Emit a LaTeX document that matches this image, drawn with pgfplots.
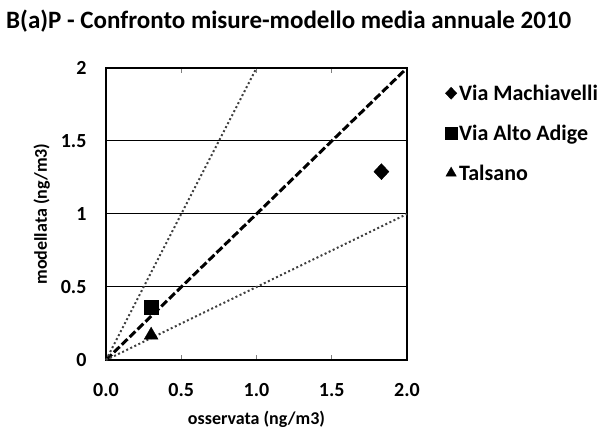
\documentclass[border=0pt]{standalone}
\usepackage{pgfplots}
\pgfplotsset{compat=1.18}
\usepackage{fontspec}
\setmainfont{Carlito}
\begin{document}
\begin{tikzpicture}[x=1pt,y=1pt]
\path[use as bounding box] (0,0) rectangle (600,431);
\node[anchor=base west,inner sep=0pt,font=\bfseries\fontsize{25}{27}\selectfont] at (6,402) {B(a)P - Confronto misure-modello media annuale 2010};
\begin{axis}[
  at={(106pt,71pt)}, anchor=south west,
  scale only axis, width=301pt, height=292pt,
  xmin=0, xmax=2, ymin=0, ymax=2,
  xtick={0,0.5,1,1.5,2}, ytick={0,0.5,1,1.5,2},
  xticklabels={0.0,0.5,1.0,1.5,2.0},
  yticklabels={0,0.5,1,1.5,2},
  /pgf/number format/assume math mode=true,
  ticklabel style={font=\bfseries\fontsize{20}{22}\selectfont},
  xticklabel style={yshift=-20pt},
  yticklabel style={xshift=-16pt},
  tick align=inside, major tick length=5pt,
  ytick style={draw=none},
  xtick style={line width=1pt},
  axis line style={line width=1.6pt},
  ymajorgrids, grid style={black, line width=1pt},
  xlabel={osservata (ng/m3)}, ylabel={modellata (ng/m3)},
  label style={font=\bfseries\fontsize{18}{20}\selectfont},
  xlabel style={yshift=-7pt},
  ylabel style={yshift=4pt},
  legend style={at={(1.126,0.95)}, anchor=north west, draw=none, fill=none,
    font=\bfseries\fontsize{22}{24}\selectfont, row sep=19pt, inner sep=0pt,
    legend cell align=left, /tikz/every even column/.append style={column sep=1pt}},
  legend image code/.code={\draw[#1,mark size=6pt] plot coordinates {(0.12cm,0cm)};},
  clip=false,
]
\addplot[forget plot, black, line width=3pt, dash pattern=on 8pt off 3pt] coordinates {(0,0) (2,2)};
\addplot[forget plot, black!75, line width=2pt, dash pattern=on 2pt off 2.5pt] coordinates {(0,0) (1,2)};
\addplot[forget plot, black!75, line width=2pt, dash pattern=on 2pt off 2.5pt] coordinates {(0,0) (2,1)};
\addplot[only marks, mark=diamond*, mark size=8pt, mark options={xscale=1.25}, black] coordinates {(1.83,1.29)};
\addlegendentry{Via Machiavelli}
\addplot[only marks, mark=square*, mark size=7pt, black] coordinates {(0.30,0.36)};
\addlegendentry{Via Alto Adige}
\addplot[only marks, mark=triangle*, mark size=8pt, black] coordinates {(0.30,0.17)};
\addlegendentry{Talsano}
\end{axis}
\end{tikzpicture}
\end{document}
